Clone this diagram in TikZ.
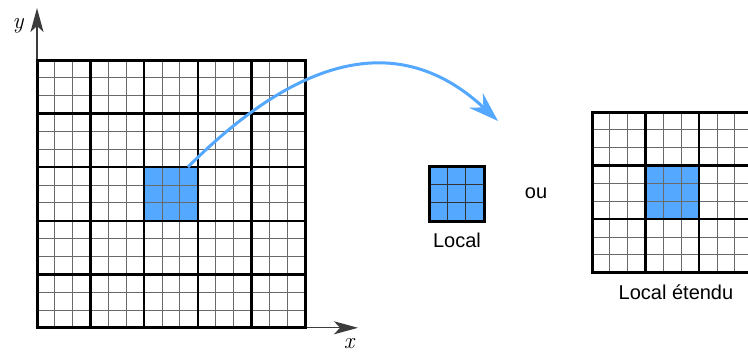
\documentclass[tikz,border=0pt]{standalone}
\usepackage{fontspec}
\newfontfamily\labfont{Liberation Sans}
\usetikzlibrary{arrows.meta}
\definecolor{cellblue}{RGB}{84,168,255}
\definecolor{arrowblue}{RGB}{84,168,255}
\definecolor{fineg}{RGB}{105,105,105}
\definecolor{axisg}{RGB}{60,60,60}
\begin{document}
\begin{tikzpicture}[x=1pt,y=-1pt,
  fine/.style={draw=fineg,line width=1.05pt},
  coarse/.style={draw=black,line width=2.5pt},
  border/.style={draw=black,line width=3pt},
  lbl/.style={font=\labfont\fontsize{20}{24}\selectfont,inner sep=0pt},
  axislbl/.style={font=\fontsize{23}{26}\selectfont\itshape,inner sep=0pt},
  axis/.style={draw=axisg,line width=1.3pt,-{Stealth[length=24pt,width=13pt,inset=6pt]}},
  bluecell/.style={fill=cellblue,draw=none,minimum size=53.6pt,inner sep=0pt,anchor=north west}]
\useasboundingbox (0,0) rectangle (748,354);
\def\fs{17.8667}
\def\cs{53.6}
% ---------- main grid ----------
\node[bluecell] (sel) at (144.2,167.2) {};
\coordinate (O) at (37,327.8);
\coordinate (ytip) at (37,8);
\coordinate (xtip) at (358,327.8);
\draw[axis] (O) -- (ytip);
\draw[axis] (O) -- (xtip);
\foreach \i in {1,...,14} {
  \draw[fine] ({37+\i*\fs},60) -- ({37+\i*\fs},327.8);
  \draw[fine] (37,{60+\i*\fs}) -- (305,{60+\i*\fs});
}
\foreach \i in {1,...,4} {
  \draw[coarse] ({37+\i*\cs},60) -- ({37+\i*\cs},327.8);
  \draw[coarse] (37,{60+\i*\cs}) -- (305,{60+\i*\cs});
}
\draw[border] (37,60) rectangle (305,327.8);
\node[axislbl] (ylab) at (18,26) {y};
\node[axislbl] (xlab) at (349,344) {x};
% ---------- local ----------
\node[bluecell,minimum size=55pt] (loc) at (429,166) {};
\foreach \i in {1,2} {
  \draw[draw=black!80,line width=1.1pt] ({429+\i*18.333},166) -- ({429+\i*18.333},221);
  \draw[draw=black!80,line width=1.1pt] (429,{166+\i*18.333}) -- (484,{166+\i*18.333});
}
\draw[border] (429,166) rectangle (484,221);
\node[lbl] (loclab) at (457,240) {Local};
\node[lbl] (ou) at (536,193) {ou};
% ---------- local etendu ----------
\begin{scope}
\clip (580,100) rectangle (748,290);
\node[bluecell] (ext) at (645.6,165.6) {};
\foreach \i in {1,...,9} {
  \draw[fine] ({592+\i*\fs},112) -- ({592+\i*\fs},272.8);
}
\foreach \i in {1,...,8} {
  \draw[fine] (592,{112+\i*\fs}) -- (760,{112+\i*\fs});
}
\foreach \i in {1,2} {
  \draw[coarse] ({592+\i*\cs},112) -- ({592+\i*\cs},272.8);
  \draw[coarse] (592,{112+\i*\cs}) -- (760,{112+\i*\cs});
}
\draw[border] (760,112) -- (592,112) -- (592,272.8) -- (760,272.8);
\end{scope}
\node[lbl] (extlab) at (676,292) {Local étendu};
% ---------- arrow ----------
\coordinate (a0) at (188,167);
\coordinate (a1) at (498,121);
\draw[arrowblue,line width=3pt,-{Stealth[length=30pt,width=20pt,inset=10pt]}]
  (a0) .. controls (287,68) and (392,22) .. (a1);
\end{tikzpicture}
\end{document}
